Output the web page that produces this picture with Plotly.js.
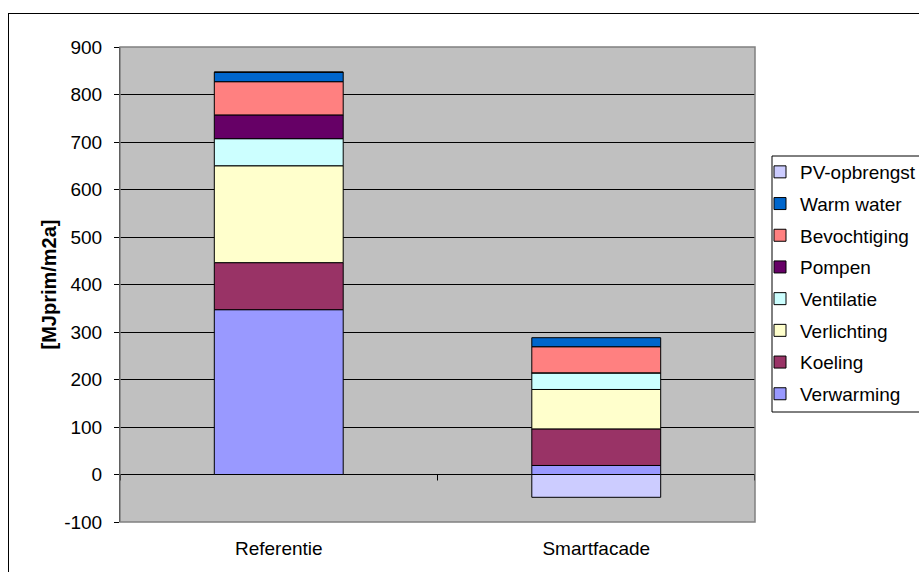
<!DOCTYPE html>
<html>
<head>
<meta charset="utf-8">
<script src="https://cdn.plot.ly/plotly-3.0.1.min.js"></script>
<style>
  html, body { margin: 0; padding: 0; background: #ffffff; overflow: hidden; }
  #wrap { position: relative; width: 919px; height: 572px; }
  #chart { width: 919px; height: 572px; }
  #frame { position: absolute; left: 8px; top: 13px; width: 1000px; height: 1000px;
           border: 1px solid #000; box-sizing: border-box; pointer-events: none; }
</style>
</head>
<body>
<div id="wrap">
  <div id="chart"></div>
  <div id="frame"></div>
</div>
<script>
// Primary energy use per building variant, MJprim/m2a
const categories   = ['Referentie', 'Smartfacade'];
const verwarming   = [347, 19];
const koeling      = [99, 77];
const verlichting  = [204, 83];
const ventilatie   = [57, 35];
const pompen       = [50, 0];
const bevochtiging = [70, 55];
const warmWater    = [20, 19];
const pvOpbrengst  = [0, -48];

// value-axis ticks (plain hyphen for the negative label)
const yTickVals = [-100, 0, 100, 200, 300, 400, 500, 600, 700, 800, 900];
const yTickText = ['-100', '0', '100', '200', '300', '400', '500', '600', '700', '800', '900'];

const seriesNames  = ['Verwarming', 'Koeling', 'Verlichting', 'Ventilatie', 'Pompen',
                      'Bevochtiging', 'Warm water', 'PV-opbrengst'];
const seriesValues = [verwarming, koeling, verlichting, ventilatie, pompen,
                      bevochtiging, warmWater, pvOpbrengst];
const seriesColors = ['#9999FF', '#993366', '#FFFFCC', '#CCFFFF', '#660066',
                      '#FF8080', '#0066CC', '#CCCCFF'];

const FONT = '"Liberation Sans", Arial, sans-serif';
const FS = 19;

const traces = seriesNames.map((name, i) => ({
  type: 'bar',
  name: name,
  x: categories,
  y: seriesValues[i],
  legendgroup: name,
  legendrank: seriesNames.length - i,   // top of the stack listed first
  marker: { color: seriesColors[i], line: { color: '#000000', width: 1 } },
  hoverinfo: 'name+y'
}));

// plot area in pixels
const L = 120, R = 164, T = 47, B = 50;
const PW = 919 - L - R, PH = 572 - T - B;
const px = v => (v - L) / PW;          // page x -> paper x
const py = v => (572 - B - v) / PH;    // page y -> paper y

const layout = {
  width: 919, height: 572,
  margin: { l: L, r: R, t: T, b: B, autoexpand: false },
  paper_bgcolor: '#ffffff',
  plot_bgcolor: '#C0C0C0',
  barmode: 'relative',
  bargap: 0.594,
  font: { family: FONT, size: FS, color: '#000000' },
  showlegend: true,
  legend: {
    x: px(760), y: py(153), xanchor: 'left', yanchor: 'top',
    bgcolor: 'rgba(0,0,0,0)', borderwidth: 0,
    traceorder: 'grouped', tracegroupgap: 4,
    font: { family: FONT, size: FS, color: '#000000' },
    itemclick: false
  },
  xaxis: {
    type: 'category',
    showgrid: false, zeroline: false, showline: false,
    ticks: '', ticklabelstandoff: 13,
    tickfont: { family: FONT, size: FS, color: '#000000' },
    range: [-0.5, 1.5], fixedrange: true
  },
  yaxis: {
    range: [-100, 900],
    tickmode: 'array', tickvals: yTickVals, ticktext: yTickText,
    showgrid: true, gridcolor: '#000000', gridwidth: 1,
    zeroline: true, zerolinecolor: '#000000', zerolinewidth: 1,
    showline: true, linecolor: '#000000', linewidth: 1,
    ticks: 'outside', ticklen: 5, tickcolor: '#000000', tickwidth: 1,
    ticklabelstandoff: 8,
    tickfont: { family: FONT, size: FS, color: '#000000' },
    title: { text: '<b>[MJprim/m2a]</b>', standoff: 2,
             font: { family: FONT, size: 20, color: '#000000' } },
    fixedrange: true
  },
  shapes: [
    // legend box
    { type: 'rect', xref: 'paper', yref: 'paper',
      x0: px(772), x1: px(940), y0: py(412), y1: py(156),
      line: { color: '#000000', width: 1 }, fillcolor: '#ffffff', layer: 'below' },
    // plot area border
    { type: 'rect', xref: 'paper', yref: 'paper', x0: 0, x1: 1, y0: 0, y1: 1,
      line: { color: '#808080', width: 1.5 }, fillcolor: 'rgba(0,0,0,0)', layer: 'above' },
    // category separator ticks on the zero axis
    ...[-0.5, 0.5, 1.5].map(xv => ({
      type: 'line', xref: 'x', yref: 'y', x0: xv, x1: xv,
      ysizemode: 'pixel', yanchor: 0, y0: 0, y1: -6,
      line: { color: '#000000', width: 1 }, layer: 'above'
    }))
  ]
};

Plotly.newPlot('chart', traces, layout, { displayModeBar: false, staticPlot: true });
</script>
</body>
</html>
